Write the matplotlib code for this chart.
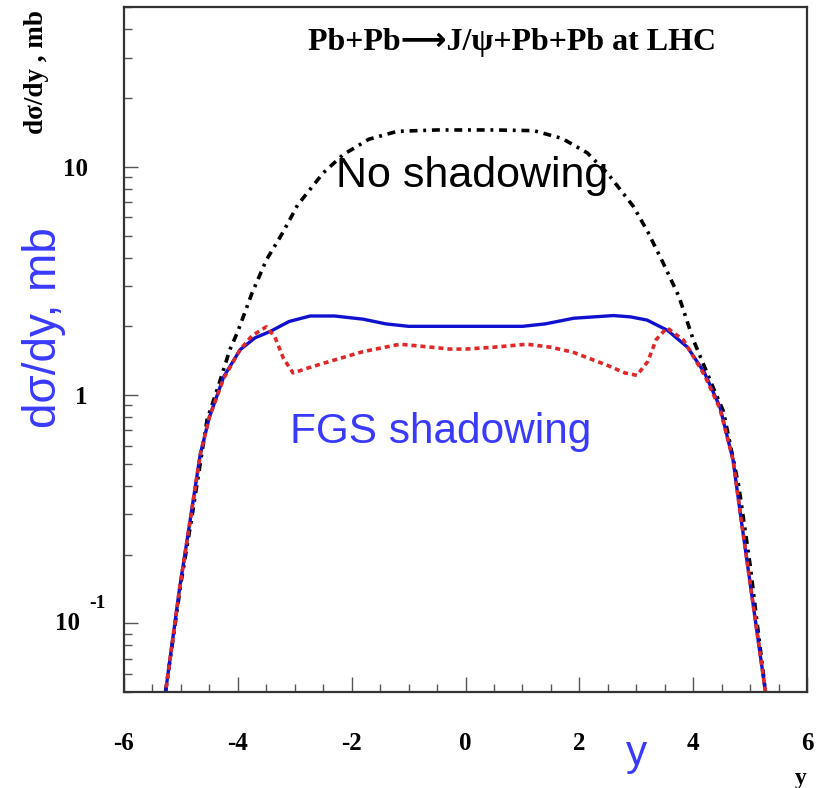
import matplotlib
matplotlib.use("Agg")
import matplotlib.pyplot as plt
import matplotlib.transforms as mtransforms
from matplotlib.ticker import FixedLocator, FixedFormatter, MultipleLocator

plt.rcParams['axes.unicode_minus'] = False

# no shadowing (black dash-dot)
y_nosh = [-5.35, -5.27, -5.0, -4.8, -4.54, -4.35, -4.14, -4.0, -3.75, -3.5, -3.2, -2.95,
          -2.5, -2.15, -1.7, -1.2, -0.5, 0.0, 0.5, 1.2, 1.7, 2.14, 2.49, 2.95, 3.2,
          3.47, 3.75, 4.0, 4.35, 4.53, 4.8, 5.0, 5.27, 5.35]
s_nosh = [0.04, 0.05, 0.15, 0.3, 0.78, 1.08, 1.58, 1.9, 2.8, 3.9, 5.2, 6.8,
          9.4, 11.3, 13.2, 14.3, 14.5, 14.5, 14.5, 14.4, 13.3, 11.5, 9.4, 6.7, 5.2,
          3.8, 2.7, 1.75, 1.08, 0.85, 0.4, 0.18, 0.05, 0.04]

# FGS shadowing (blue solid)
y_fgs = [-5.35, -5.27, -5.02, -4.84, -4.66, -4.5, -4.25, -3.96, -3.7, -3.43, -3.1, -2.73,
         -2.3, -1.8, -1.4, -1.0, 0.0, 1.0, 1.4, 1.9, 2.6, 2.9, 3.19, 3.55, 3.9,
         4.2, 4.47, 4.7, 4.83, 5.0, 5.27, 5.35]
s_fgs = [0.04, 0.05, 0.144, 0.28, 0.55, 0.8, 1.2, 1.58, 1.78, 1.9, 2.1, 2.22,
         2.22, 2.15, 2.05, 2.0, 2.0, 2.0, 2.05, 2.17, 2.23, 2.2, 2.13, 1.92, 1.62,
         1.25, 0.886, 0.52, 0.3, 0.15, 0.05, 0.04]

# red dotted
y_red = [-5.35, -5.27, -5.02, -4.84, -4.66, -4.5, -4.25, -3.96, -3.75, -3.5, -3.35, -3.2,
         -3.03, -2.7, -2.32, -1.8, -1.15, -0.6, -0.27, 0.0, 0.49, 1.08, 1.5, 1.89,
         2.49, 2.8, 3.01, 3.2, 3.35, 3.54, 3.83, 4.2, 4.47, 4.7, 4.83, 5.0, 5.27, 5.35]
s_red = [0.04, 0.05, 0.144, 0.28, 0.55, 0.8, 1.18, 1.58, 1.82, 1.99, 1.8, 1.45,
         1.25, 1.33, 1.42, 1.55, 1.67, 1.62, 1.59, 1.59, 1.62, 1.67, 1.62, 1.54,
         1.35, 1.25, 1.22, 1.4, 1.75, 1.97, 1.74, 1.22, 0.87, 0.52, 0.3, 0.15, 0.05, 0.04]

xticks = [-6, -4, -2, 0, 2, 4, 6]
yticks = [0.1, 1, 10]
ytick_labels = ['', '1', '10']

fig = plt.figure(figsize=(8.2, 7.88), dpi=100)
ax = fig.add_axes([0.1512, 0.1218, 0.833, 0.869])

ax.plot(y_nosh, s_nosh, color='black', lw=2.6, linestyle=(0, (2.2, 1.6, 0.8, 1.6)))
ax.plot(y_fgs, s_fgs, color='#1010d0', lw=2.4)
ax.plot(y_red, s_red, color='#e02828', lw=2.6, linestyle=(0, (1.4, 1.1)))

ax.set_yscale('log')
ax.set_xlim(-6, 6)
ax.set_ylim(0.05, 50)

ax.xaxis.set_major_locator(FixedLocator(xticks))
ax.xaxis.set_minor_locator(MultipleLocator(0.5))
ax.yaxis.set_major_locator(FixedLocator(yticks))
ax.yaxis.set_major_formatter(FixedFormatter(ytick_labels))
ax.yaxis.set_minor_locator(FixedLocator([k * d for d in (0.01, 0.1, 1, 10) for k in range(2, 10)]))
ax.yaxis.set_minor_formatter(FixedFormatter([]))

ax.tick_params(which='both', direction='in', top=False, right=False, color='#555555')
ax.tick_params(axis='x', which='major', length=11, width=1, pad=29)
ax.tick_params(axis='x', which='minor', length=6, width=1)
ax.tick_params(axis='y', which='major', length=10, width=1, pad=26)
ax.tick_params(axis='y', which='minor', length=6, width=1)
for lab in ax.get_xticklabels() + ax.get_yticklabels():
    lab.set_fontfamily('Liberation Serif')
    lab.set_fontweight('bold')
    lab.set_fontsize(18)

# 10^-1 label drawn by hand, like the original
ytrans = mtransforms.blended_transform_factory(fig.transFigure, ax.transData)
fig.text(80 / 820, 0.1, '10', transform=ytrans, ha='right', va='center',
         fontsize=18, fontweight='bold', family='Liberation Serif')
fig.text(89 / 820, 0.1, '-1', transform=ytrans, ha='left', va='center',
         fontsize=14, fontweight='bold', family='Liberation Serif')
for t in fig.texts[-1:]:
    t.set_transform(ytrans + mtransforms.ScaledTranslation(0, 20 / 100, fig.dpi_scale_trans))

for sp in ax.spines.values():
    sp.set_linewidth(1.6)
    sp.set_color('#333333')

ax.text(0.568, 0.949, 'Pb+Pb\u27f6J/\u03c8+Pb+Pb at LHC', transform=ax.transAxes,
        ha='center', va='center', fontsize=23, fontweight='bold',
        family=['Liberation Serif', 'DejaVu Sans'])
ax.text(0.51, 0.753, 'No shadowing', transform=ax.transAxes, ha='center', va='center',
        fontsize=31, family='Liberation Sans', color='black')
ax.text(0.464, 0.380, 'FGS shadowing', transform=ax.transAxes, ha='center', va='center',
        fontsize=30.5, family='Liberation Sans', color='#3a3aff')

fig.text(0.054, 0.584, 'd\u03c3/dy, mb', rotation=90, ha='center', va='center',
         fontsize=33, family='Liberation Sans', color='#3a3aff')
fig.text(0.044, 0.909, 'd\u03c3/dy , mb', rotation=90, ha='center', va='center',
         fontsize=19.5, fontweight='bold', family='Liberation Serif')
fig.text(0.776, 0.043, 'y', ha='center', va='center', fontsize=30.5,
         family='Liberation Sans', color='#3a3aff')
fig.text(0.976, 0.012, 'y', ha='center', va='center', fontsize=17,
         fontweight='bold', family='Liberation Serif')

fig.savefig('out.png', dpi=100)
